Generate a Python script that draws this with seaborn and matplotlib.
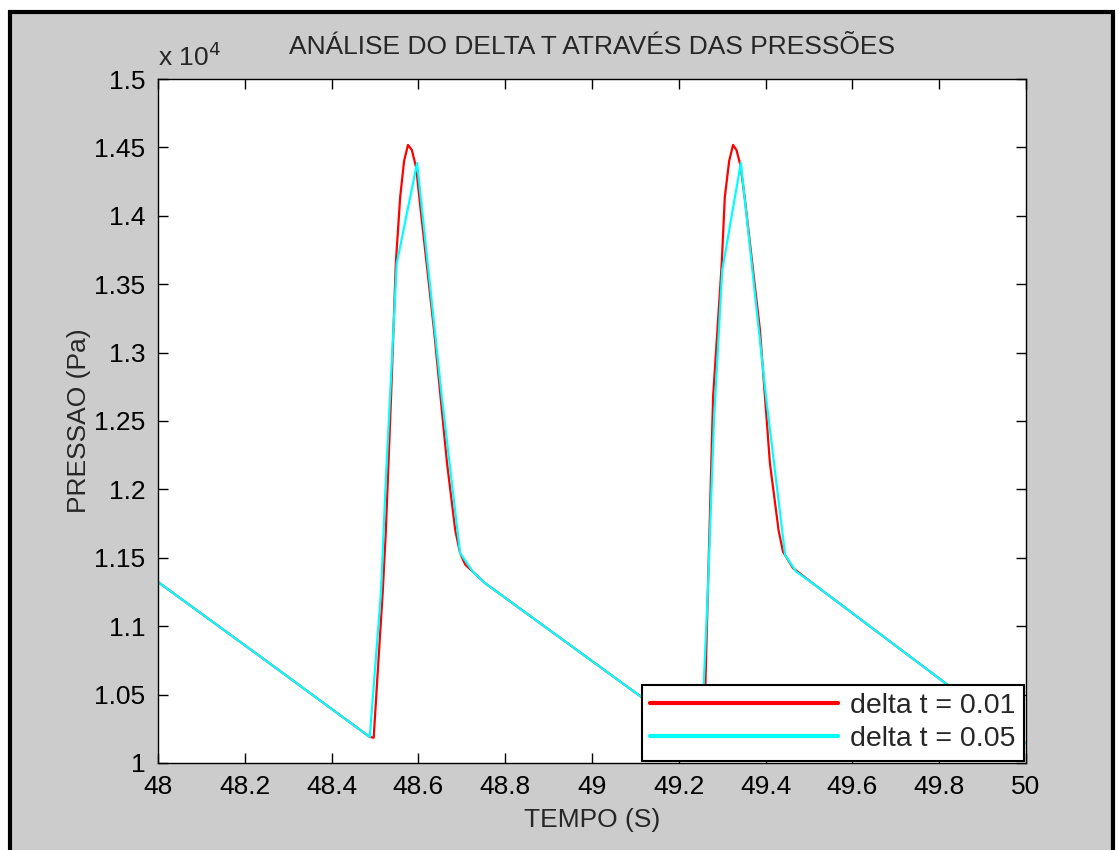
"""
Delta t comparison of pressure traces (MATLAB-style figure)
"""

import numpy as np
import pandas as pd
import matplotlib
matplotlib.use("Agg")
import matplotlib.pyplot as plt
from matplotlib.patches import Rectangle
from matplotlib.ticker import FuncFormatter, MultipleLocator
import seaborn as sns

# Pressure in units of 10^4 Pa
t_dt001 = [48.00, 48.25, 48.488, 48.497, 48.505, 48.518, 48.525, 48.537, 48.548, 48.558,
           48.567, 48.576, 48.585, 48.595, 48.605, 48.636, 48.666, 48.685, 48.696, 48.708,
           48.753, 49.117, 49.252, 49.259, 49.267, 49.279, 49.299, 49.306, 49.316,
           49.325, 49.333, 49.342, 49.352, 49.387, 49.410, 49.430, 49.440, 49.463,
           49.51, 49.820, 50.00]
p_dt001 = [1.1323, 1.0745, 1.0190, 1.0185, 1.060, 1.126, 1.170, 1.2675, 1.3655, 1.4137,
           1.440, 1.4518, 1.448, 1.435, 1.405, 1.3165, 1.219, 1.170, 1.1535, 1.145,
           1.1316, 1.0475, 1.0185, 1.030, 1.126, 1.2675, 1.3655, 1.4137, 1.440,
           1.4518, 1.448, 1.437, 1.413, 1.3165, 1.219, 1.170, 1.1545, 1.1425,
           1.131, 1.057, 1.0144]

t_dt005 = [48.00, 48.25, 48.488, 48.514, 48.524, 48.535, 48.550, 48.597, 48.654, 48.696,
           48.725, 48.753, 49.117, 49.252, 49.267, 49.281, 49.300, 49.343, 49.401,
           49.445, 49.47, 49.51, 49.820, 50.00]
p_dt005 = [1.1323, 1.0745, 1.019, 1.126, 1.200, 1.270, 1.365, 1.4386, 1.2675, 1.1535,
           1.140, 1.1316, 1.0475, 1.0185, 1.126, 1.250, 1.360, 1.4386, 1.2675,
           1.152, 1.140, 1.131, 1.057, 1.0144]

labels = ["delta t = 0.01", "delta t = 0.05"]
colors = {"delta t = 0.01": "#ff0000", "delta t = 0.05": "#00ffff"}

df = pd.concat([
    pd.DataFrame({"t": t_dt001, "p": p_dt001, "serie": labels[0]}),
    pd.DataFrame({"t": t_dt005, "p": p_dt005, "serie": labels[1]}),
], ignore_index=True)

sns.set_theme(style="ticks")
plt.rcParams["font.family"] = ["Liberation Sans", "DejaVu Sans"]
plt.rcParams["font.size"] = 19

fig = plt.figure(figsize=(11.19, 8.5), dpi=100, facecolor="white")

# gray MATLAB figure panel with black frame
fig.patches.append(Rectangle((9.5 / 1119, -0.05), (1113 - 9.5) / 1119, 1.05 - 12 / 850,
                             transform=fig.transFigure, facecolor="#cccccc",
                             edgecolor="black", linewidth=3, zorder=-1))

ax = fig.add_axes([158 / 1119, 1 - 763 / 850, (1026 - 158) / 1119, (763 - 79) / 850])
ax.set_facecolor("white")

sns.lineplot(data=df, x="t", y="p", hue="serie", hue_order=labels, palette=colors,
             estimator=None, sort=False, linewidth=1.6, ax=ax)

ax.set_xlim(48, 50)
ax.set_ylim(1.0, 1.5)
ax.xaxis.set_major_locator(MultipleLocator(0.2))
ax.yaxis.set_major_locator(MultipleLocator(0.05))
fmt = FuncFormatter(lambda v, pos: "%g" % round(v, 4))
ax.xaxis.set_major_formatter(fmt)
ax.yaxis.set_major_formatter(fmt)
ax.tick_params(direction="in", length=7, width=1, top=True, right=True,
               labelsize=19, pad=9, colors="black")
for s in ax.spines.values():
    s.set_visible(True)
    s.set_linewidth(1.0)
    s.set_color("black")

ax.set_title("ANÁLISE DO DELTA T ATRAVÉS DAS PRESSÕES", fontsize=19, pad=18)
ax.set_xlabel("TEMPO (S)", fontsize=19, labelpad=6)
ax.set_ylabel("PRESSAO (Pa)", fontsize=19, labelpad=2)
ax.text(0.0, 1.012, r"x 10$^4$", transform=ax.transAxes, fontsize=19,
        ha="left", va="bottom")

leg = ax.legend(loc="lower right", frameon=True, fancybox=False, framealpha=1,
                edgecolor="black", fontsize=20.5, handlelength=6.6, handletextpad=0.4,
                borderaxespad=0.08, borderpad=0.3, labelspacing=0.25)
leg.get_frame().set_linewidth(1.5)
for line in leg.get_lines():
    line.set_linewidth(3)

fig.savefig("out.png", dpi=100, facecolor=fig.get_facecolor())
